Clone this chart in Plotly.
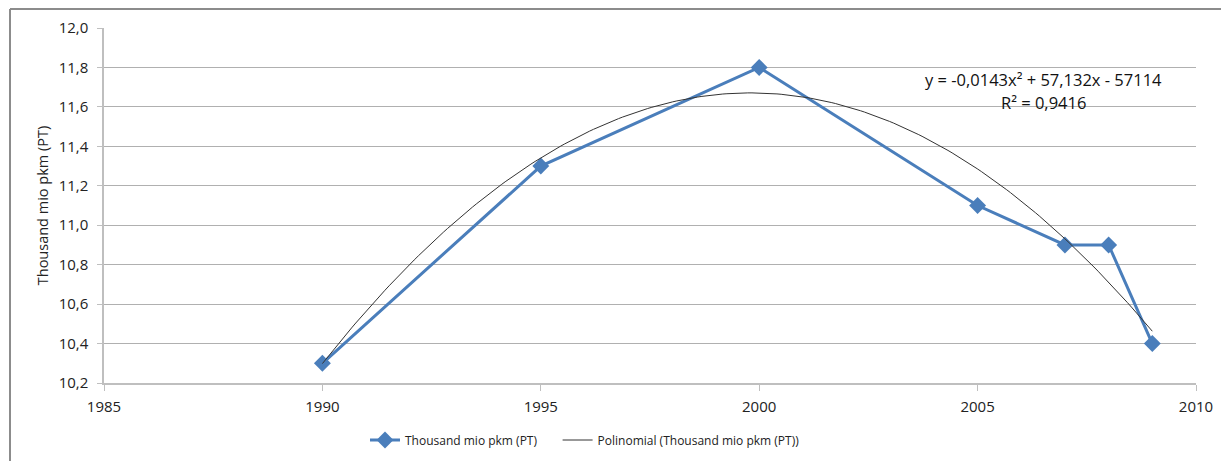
import numpy as np
import plotly.graph_objects as go

years = [1990, 1995, 2000, 2005, 2007, 2008, 2009]
values = [10.3, 11.3, 11.8, 11.1, 10.9, 10.9, 10.4]
series_name = "Thousand mio pkm (PT)"
trend_name = "Polinomial (Thousand mio pkm (PT))"
y_ticks = [10.2, 10.4, 10.6, 10.8, 11.0, 11.2, 11.4, 11.6, 11.8, 12.0]
x_ticks = [1985, 1990, 1995, 2000, 2005, 2010]
equation_line = "y = -0,0143x² + 57,132x - 57114"
r2_line = "R² = 0,9416"

# polynomial (2nd order) trendline fitted to the data, as Excel does
coef = np.polyfit(np.array(years, float) - 2000, values, 2)
tx = np.linspace(min(years), max(years), 200)
ty = np.polyval(coef, tx - 2000)

FONT = "Open Sans"
NBSP = "\u00a0"
fig = go.Figure()
fig.add_trace(go.Scatter(
    x=years, y=values, name=series_name + NBSP * 5, mode="lines+markers",
    line=dict(color="#4a7ebb", width=3),
    marker=dict(symbol="diamond", size=13, color="#4a7ebb"),
))
fig.add_trace(go.Scatter(
    x=tx, y=ty, name=trend_name, mode="lines",
    line=dict(color="#333333", width=1),
))

OFF = 8  # page body margin
W, H = 1229, 461
L, T = 104 - OFF, 28 - OFF
R = W + OFF - 1196
B = H + OFF - 383
pw, ph = W - L - R, H - T - B

def px_x(p):
    return (p - OFF - L) / pw

def px_y(p):
    return (H - B - (p - OFF)) / ph

fig.update_layout(
    width=W, height=H,
    margin=dict(l=L, r=R, t=T, b=B, pad=0, autoexpand=False),
    paper_bgcolor="white", plot_bgcolor="white",
    separators=", ",
    font=dict(family=FONT, size=13, color="#222222"),
    showlegend=True,
    legend=dict(orientation="h", x=px_x(365), xanchor="left", y=px_y(440), yanchor="middle",
                font=dict(size=12, family=FONT, color="#222222"), itemwidth=30,
                traceorder="normal", bgcolor="rgba(0,0,0,0)"),
    xaxis=dict(range=[1985, 2010], tickvals=x_ticks, showgrid=False, zeroline=False,
               automargin=False, ticklabelstandoff=3,
               showline=True, linecolor="#bfbfbf", linewidth=1.5,
               ticks="outside", ticklen=6, tickcolor="#bfbfbf",
               tickfont=dict(size=15, family=FONT, color="#222222")),
    yaxis=dict(range=[10.2, 12.0], tickvals=y_ticks, tickformat=".1f",
               automargin=False, ticklabelstandoff=6,
               showgrid=True, gridcolor="#b0b0b0", gridwidth=1, zeroline=False,
               showline=True, linecolor="#bfbfbf", linewidth=1.5,
               ticks="outside", ticklen=5, tickcolor="#bfbfbf",
               tickfont=dict(size=15, family=FONT, color="#222222"),
               title=dict(text="Thousand mio pkm (PT)", standoff=7,
                          font=dict(size=14.5, family=FONT, color="#222222"))),
    annotations=[
        dict(text=equation_line, x=px_x(1043), y=px_y(79), xref="paper", yref="paper",
             showarrow=False, xanchor="center", yanchor="middle",
             font=dict(size=16.5, family=FONT, color="#111111")),
        dict(text=r2_line, x=px_x(1043), y=px_y(102), xref="paper", yref="paper",
             showarrow=False, xanchor="center", yanchor="middle",
             font=dict(size=16.5, family=FONT, color="#111111")),
    ],
    shapes=[
        dict(type="line", xref="paper", yref="paper", x0=px_x(10), x1=px_x(W + 5),
             y0=px_y(9), y1=px_y(9), line=dict(color="#8c8c8c", width=2)),
        dict(type="line", xref="paper", yref="paper", x0=px_x(10), x1=px_x(10),
             y0=px_y(9), y1=px_y(H + 5), line=dict(color="#8c8c8c", width=2)),
    ],
)
fig.write_html("out.html")
